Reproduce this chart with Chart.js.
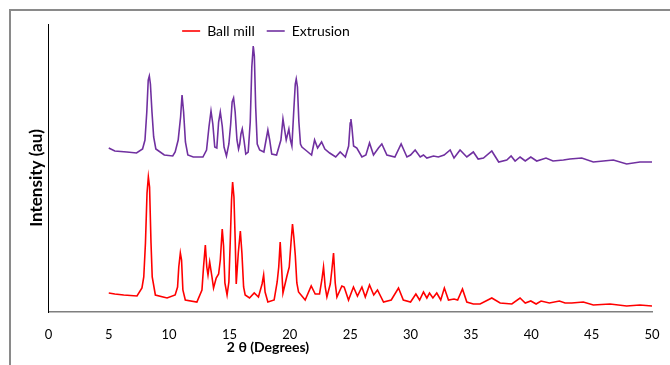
<!DOCTYPE html>
<html>
<head>
<meta charset="utf-8">
<script src="https://cdn.jsdelivr.net/npm/chart.js@4/dist/chart.umd.min.js"></script>
<style>
  html, body { margin: 0; padding: 0; background: #ffffff; }
  #wrap { position: relative; width: 670px; height: 365px; overflow: hidden; }
  #frame { position: absolute; left: 9px; top: 9px; width: 720px; height: 420px;
           border-top: 2px solid #8a8a8a; border-left: 2px solid #8a8a8a; z-index: 0; }
  #c { position: absolute; left: 0; top: 0; z-index: 1; }
</style>
</head>
<body>
<div id="wrap">
  <div id="frame"></div>
  <canvas id="c" width="670" height="365"></canvas>
</div>
<script>
// ---- data ----
const seriesNames = ["Ball mill", "Extrusion"];

const ballMillTheta = [5.0,5.5,6.24,7.34,7.75,7.9,8.04,8.17,8.28,8.38,8.5,8.6,8.86,9.83,10.5,10.7,10.8,10.93,11.03,11.14,11.34,12.3,12.72,12.85,13.0,13.12,13.22,13.36,13.55,13.68,13.9,14.1,14.24,14.4,14.51,14.62,14.8,14.95,15.06,15.17,15.26,15.37,15.48,15.56,15.73,15.9,16.03,16.17,16.3,16.66,17.05,17.4,17.7,17.83,17.95,18.18,18.7,18.95,19.08,19.2,19.33,19.43,19.76,19.95,20.1,20.22,20.33,20.45,20.58,20.72,21.27,21.77,22.1,22.46,22.65,22.79,22.93,23.07,23.35,23.48,23.62,23.76,23.9,24.31,24.5,24.86,25.27,25.6,25.97,26.25,26.6,26.95,27.26,27.76,28.4,29.0,29.4,30.0,30.44,30.75,31.07,31.35,31.57,31.85,32.17,32.5,32.8,33.14,33.6,33.9,34.3,34.66,35.2,35.76,36.73,37.42,38.39,39.07,39.5,39.96,40.4,40.81,41.5,42.33,42.8,43.35,44.31,45.14,46.52,47.9,49.0,50.0];
const ballMillIntensity = [19,18,17,16,24,35,69,119,135,125,69,35,17,14,17,25,45,59,52,22,12,10,22,45,67,45,37,50,35,24,34,38,52,83,66,29,17,30,69,112,130,115,69,28,59,81,59,25,17,14,19,15,28,37,20,10,12,30,45,70,42,19,36,45,70,88,75,57,29,20,12,26,18,18,32,45,25,15,28,42,59,29,15,26,25,12,25,16,25,15,27,17,22,10,12,24,12,10,18,12,20,14,19,14,19,12,24,12,13,12,23,10,8,8,14,9,8,14,9,11,8,11,9,11,9,9,10,7,8,6,7,6];

const extrusionTheta = [5.0,5.5,6.5,7.3,7.8,8.0,8.15,8.27,8.36,8.45,8.58,8.72,8.9,9.6,10.3,10.5,10.75,10.95,11.07,11.2,11.35,11.55,12.0,12.8,13.1,13.3,13.47,13.62,13.78,13.95,14.1,14.24,14.4,14.55,14.75,14.95,15.1,15.22,15.34,15.47,15.62,15.75,15.85,15.95,16.06,16.2,16.35,16.55,16.72,16.85,16.97,17.06,17.17,17.3,17.5,17.85,18.03,18.18,18.33,18.5,18.9,19.26,19.43,19.57,19.7,19.92,20.05,20.17,20.32,20.45,20.53,20.63,20.75,20.88,21.0,21.4,21.8,22.05,22.3,22.63,22.9,23.3,23.8,24.17,24.6,24.87,25.0,25.06,25.14,25.28,25.55,25.97,26.3,26.6,26.93,27.34,27.62,28.04,28.7,29.22,29.7,30.0,30.38,30.8,31.07,31.35,31.9,32.3,32.78,33.28,33.6,34.1,34.66,35.2,35.6,36.04,36.73,37.3,37.97,38.33,38.66,39.07,39.5,39.96,40.45,41.22,41.8,42.66,43.2,44.18,45.14,45.97,46.8,47.9,49.0,50.0];
const extrusionIntensity = [164,161,160,159,163,172,200,232,236,228,200,175,163,157,156,160,172,195,217,200,170,157,155,155,162,185,201,188,165,164,190,200,186,165,156,168,188,210,214,200,172,163,168,178,183,172,158,160,190,245,266,256,205,168,162,160,172,182,172,158,157,172,193,182,172,183,172,166,200,228,233,225,190,168,165,161,157,172,164,170,163,159,155,160,155,166,189,193,185,166,164,155,157,169,157,164,168,157,155,168,155,157,162,155,157,154,156,155,157,162,154,162,155,160,153,154,161,150,152,156,151,155,151,155,151,154,151,152,153,154,150,151,152,148,150,150];

const xTickMin = 0, xTickMax = 50, xTickStep = 5;
const yMin = 0, yMax = 288;

function toPoints(xs, ys) { return xs.map((x, i) => ({ x: x, y: ys[i] })); }

// place legend / bottom title / y title like the reference layout
const layoutShift = {
  id: 'layoutShift',
  afterLayout(chart) {
    const lg = chart.legend;
    if (lg) {
      const dx = 266 - (lg.left + lg.right) / 2;
      const dy = 24;
      lg.left += dx; lg.right += dx;
      lg.top += dy; lg.bottom += dy;
    }
    const tb = chart.titleBlock;
    if (tb) {
      const dx2 = 268 - (tb.left + tb.right) / 2;
      tb.left += dx2; tb.right += dx2;
    }
    const ys = chart.scales.y;
    if (ys && !ys._titleShifted) {
      const orig = ys.drawTitle;
      ys.drawTitle = function () {
        const ctx = this.ctx;
        ctx.save(); ctx.translate(0, 10); orig.call(this); ctx.restore();
      };
      ys._titleShifted = true;
    }
  }
};

Chart.defaults.font.family = 'Lato';
Chart.defaults.color = '#000';

new Chart(document.getElementById('c'), {
  type: 'line',
  data: {
    datasets: [
      { label: seriesNames[0], data: toPoints(ballMillTheta, ballMillIntensity),
        borderColor: '#ff0000', backgroundColor: '#ff0000', borderWidth: 1.6,
        pointRadius: 0, tension: 0, fill: false },
      { label: seriesNames[1], data: toPoints(extrusionTheta, extrusionIntensity),
        borderColor: '#7030a0', backgroundColor: '#7030a0', borderWidth: 1.6,
        pointRadius: 0, tension: 0, fill: false }
    ]
  },
  options: {
    responsive: false,
    animation: false,
    devicePixelRatio: 1,
    layout: { padding: { left: 20, top: -12, right: 18, bottom: 11 } },
    plugins: {
      legend: {
        position: 'top',
        align: 'center',
        labels: { usePointStyle: true, pointStyle: 'line', pointStyleWidth: 18,
                  padding: 12, font: { size: 14 }, color: '#000' }
      },
      title: {
        display: true, position: 'bottom', text: '2 θ (Degrees)',
        font: { size: 14, weight: 'bold', lineHeight: 1 }, color: '#000',
        padding: { top: 0, bottom: 0 }
      },
      tooltip: { enabled: false }
    },
    scales: {
      x: {
        type: 'linear', min: xTickMin, max: xTickMax,
        ticks: { stepSize: xTickStep, padding: 9, font: { size: 13, lineHeight: 2.2 }, color: '#000' },
        grid: { display: false, drawTicks: false },
        border: { display: true, color: '#7f7f7f', width: 1.5 },
        afterFit(scale) { scale.height = 28; }
      },
      y: {
        min: yMin, max: yMax,
        ticks: { display: false },
        grid: { display: false, drawTicks: false },
        border: { display: true, color: '#000', width: 1 },
        title: { display: true, text: 'Intensity (au)',
                 font: { size: 17, weight: 'bold' }, color: '#000',
                 padding: { top: 6, bottom: 2 } }
      }
    }
  },
  plugins: [layoutShift]
});
</script>
</body>
</html>
